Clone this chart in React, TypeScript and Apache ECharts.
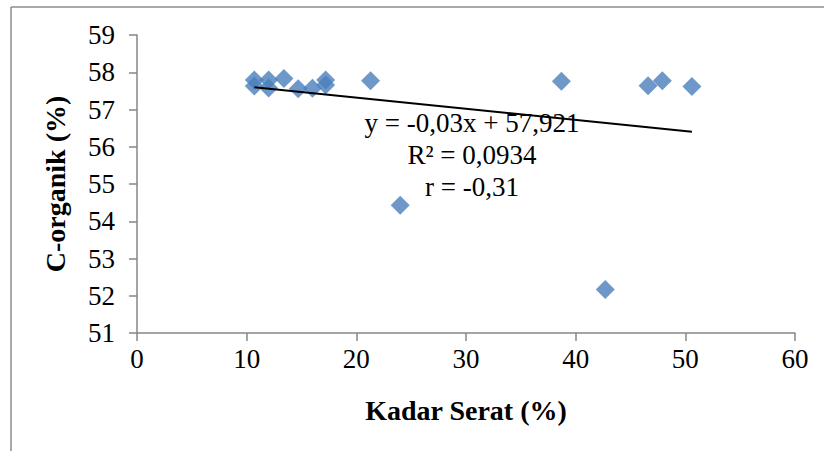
import React, { useEffect, useRef } from "react";
import * as echarts from "echarts";

const kadarSerat = [10.7, 10.7, 12.0, 12.0, 13.4, 14.7, 16.0, 17.2, 17.2, 21.3, 24.0, 38.7, 42.7, 46.6, 47.9, 50.6];
const cOrganik = [57.79, 57.63, 57.79, 57.58, 57.83, 57.56, 57.57, 57.79, 57.66, 57.77, 54.43, 57.76, 52.17, 57.64, 57.77, 57.62];
const slope = -0.03;
const intercept = 57.921;
const equationLines = ["y = -0,03x + 57,921", "R² = 0,0934", "r = -0,31"];
const xTicks = { min: 0, max: 60, interval: 10 };
const yTicks = { min: 51, max: 59, interval: 1 };

const FONT = "Liberation Serif";
const AXIS_COLOR = "#868686";

export default function App() {
  const ref = useRef<HTMLDivElement>(null);
  useEffect(() => {
    if (!ref.current) return;
    const chart = echarts.init(ref.current, null, { renderer: "svg" });
    const points = kadarSerat.map((x, i) => [x, cOrganik[i]]);
    const xMin = Math.min(...kadarSerat);
    const xMax = Math.max(...kadarSerat);
    const trend = [
      [xMin, intercept + slope * xMin],
      [xMax, intercept + slope * xMax],
    ];
    chart.setOption({
      animation: false,
      backgroundColor: "#ffffff",
      textStyle: { fontFamily: FONT },
      grid: { left: 137, right: 29, top: 35, bottom: 118 },
      xAxis: {
        type: "value",
        min: xTicks.min,
        max: xTicks.max,
        interval: xTicks.interval,
        name: "Kadar Serat (%)",
        nameLocation: "middle",
        nameGap: 63,
        nameTextStyle: { fontFamily: FONT, fontSize: 28, fontWeight: "bold", color: "#000" },
        axisLine: { lineStyle: { color: AXIS_COLOR, width: 1.5 } },
        axisTick: { show: true, length: 8, lineStyle: { color: AXIS_COLOR, width: 1.5 } },
        axisLabel: { fontFamily: FONT, fontSize: 27, color: "#000", margin: 12 },
        splitLine: { show: false },
      },
      yAxis: {
        type: "value",
        min: yTicks.min,
        max: yTicks.max,
        interval: yTicks.interval,
        name: "C-organik (%)",
        nameLocation: "middle",
        nameGap: 68,
        nameRotate: 90,
        nameTextStyle: { fontFamily: FONT, fontSize: 28, fontWeight: "bold", color: "#000" },
        axisLine: { show: true, lineStyle: { color: AXIS_COLOR, width: 1.5 } },
        axisTick: { show: true, length: 8, lineStyle: { color: AXIS_COLOR, width: 1.5 } },
        axisLabel: { fontFamily: FONT, fontSize: 27, color: "#000", margin: 22 },
        splitLine: { show: false },
      },
      series: [
        {
          type: "line",
          data: trend,
          symbol: "none",
          lineStyle: { color: "#000", width: 2 },
          z: 3,
        },
        {
          type: "scatter",
          data: points,
          symbol: "diamond",
          symbolSize: 19,
          itemStyle: { color: "#4A7EBB" },
          z: 2,
        },
      ],
      graphic: [
        { type: "line", shape: { x1: 11, y1: 7, x2: 824, y2: 7 }, style: { stroke: "#8c8c8c", lineWidth: 1.5 } },
        { type: "line", shape: { x1: 11, y1: 7, x2: 11, y2: 451 }, style: { stroke: "#8c8c8c", lineWidth: 1.5 } },
        ...equationLines.map((t, i) => ({
          type: "text",
          x: 472,
          y: 123 + i * 32,
          z: 10,
          style: {
            text: t,
            fontFamily: FONT,
            fontSize: 27,
            fill: "#000",
            textAlign: "center",
            textVerticalAlign: "middle",
          },
        })),
      ],
    });
    return () => chart.dispose();
  }, []);
  return (
    <div
      ref={ref}
      style={{ position: "absolute", left: 0, top: 0, width: 824, height: 451 }}
    />
  );
}
